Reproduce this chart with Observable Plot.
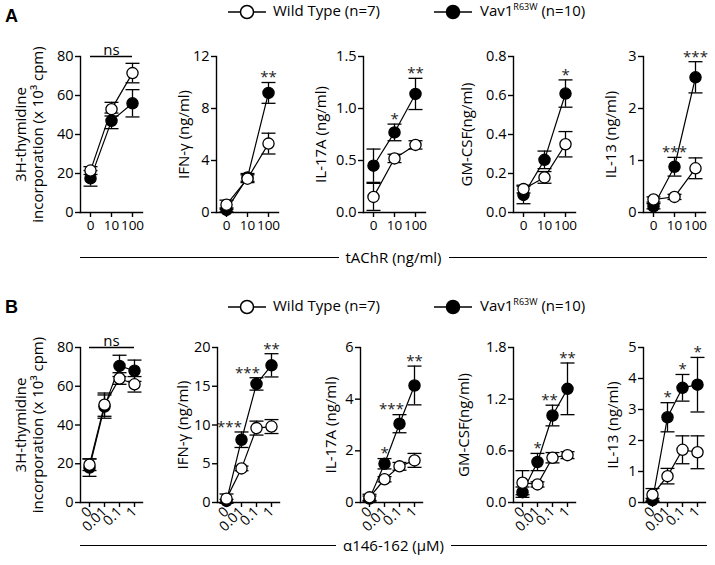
<!DOCTYPE html>
<html>
<head>
<meta charset="utf-8">
<script src="https://cdn.jsdelivr.net/npm/d3@7"></script>
<script src="https://cdn.jsdelivr.net/npm/@observablehq/plot@0.6"></script>
<style>
  body { margin: 0; background: #fff; font-family: "Open Sans", sans-serif; color: #000; }
  #chart { position: relative; width: 715px; height: 565px; overflow: hidden; }
  .abs { position: absolute; white-space: nowrap; }
  .lbl { font-size: 15px; line-height: 20px; }
  .sup { font-size: 9px; position: relative; top: -6px; }
  .xtitle { display: flex; align-items: center; font-size: 15px; }
  .xtitle .seg { flex: 1; border-top: 1.4px solid #000; height: 0; }
  .xtitle span { padding: 0 7px; }
</style>
</head>
<body>
<div id="chart"></div>
<script>
// ---------------- DATA ----------------
const dosesA = ["0", "10", "100"];                 // tAChR (ng/ml)
const dosesB = ["0", "0.01", "0.1", "1"];          // α146-162 (µM)

// Row A — tAChR stimulation
const aThymWT = [21.5, 53, 71.5],   aThymWTsem = [2, 3.5, 5];
const aThymMut = [17.5, 47, 56],    aThymMutSem = [4, 4, 7];
const aIfnWT = [0.6, 2.6, 5.3],     aIfnWTsem = [0.35, 0.3, 0.8];
const aIfnMut = [0.2, 2.7, 9.2],    aIfnMutSem = [0.15, 0.3, 0.8];
const aIl17WT = [0.15, 0.52, 0.65], aIl17WTsem = [0.13, 0.04, 0.04];
const aIl17Mut = [0.45, 0.77, 1.14],aIl17MutSem = [0.16, 0.08, 0.15];
const aGmWT = [0.12, 0.18, 0.35],   aGmWTsem = [0.02, 0.03, 0.065];
const aGmMut = [0.09, 0.27, 0.61],  aGmMutSem = [0.045, 0.045, 0.07];
const aIl13WT = [0.25, 0.3, 0.85],  aIl13WTsem = [0.05, 0.05, 0.2];
const aIl13Mut = [0.12, 0.88, 2.6], aIl13MutSem = [0.05, 0.18, 0.3];

// Row B — α146-162 stimulation
const bThymWT = [19.5, 50.5, 64, 61],   bThymWTsem = [3, 6, 3, 4];
const bThymMut = [18, 49.5, 70.5, 68],  bThymMutSem = [4.5, 6, 5.5, 5.5];
const bIfnWT = [0.5, 4.4, 9.6, 9.8],    bIfnWTsem = [0.6, 0.3, 0.9, 0.9];
const bIfnMut = [0.2, 8.1, 15.3, 17.7], bIfnMutSem = [0.2, 1.0, 0.8, 1.5];
const bIl17WT = [0.2, 0.9, 1.4, 1.63],  bIl17WTsem = [0.12, 0.1, 0.15, 0.27];
const bIl17Mut = [0.15, 1.5, 3.05, 4.53], bIl17MutSem = [0.1, 0.2, 0.35, 0.75];
const bGmWT = [0.23, 0.21, 0.52, 0.55], bGmWTsem = [0.14, 0.03, 0.06, 0.04];
const bGmMut = [0.12, 0.47, 1.01, 1.32], bGmMutSem = [0.06, 0.1, 0.12, 0.3];
const bIl13WT = [0.25, 0.85, 1.7, 1.62], bIl13WTsem = [0.2, 0.25, 0.45, 0.53];
const bIl13Mut = [0.08, 2.75, 3.7, 3.8], bIl13MutSem = [0.05, 0.47, 0.43, 0.88];

// significance labels per dose
const aIfnSig = ["", "", "**"];
const aIl17Sig = ["", "*", "**"];
const aGmSig = ["", "", "*"];
const aIl13Sig = ["", "***", "***"];
const bIfnSig = ["", "***", "***", "**"];
const bIl17Sig = ["", "*", "***", "**"];
const bGmSig = ["", "*", "**", "**"];
const bIl13Sig = ["", "*", "*", "*"];

const legendLabels = ["Wild Type (n=7)", "Vav1", "R63W", " (n=10)"];
const thymLabel = "3H-thymidine\nincorporation (x 10³ cpm)";

// ---------------- LAYOUT ----------------
const FONT = '"Open Sans", sans-serif';
const chart = document.getElementById("chart");

// horizontal error-bar cap as a custom dot symbol
const capSymbol = {draw(ctx) { ctx.moveTo(-7, 0); ctx.lineTo(7, 0); }};

function rows(doses, wt, wtE, mut, mutE) {
  const out = [];
  doses.forEach((d, i) => out.push({dose: d, s: "mut", v: mut[i], e: mutE[i]}));
  doses.forEach((d, i) => out.push({dose: d, s: "wt", v: wt[i], e: wtE[i]}));
  return out;
}

function drawPanel(p) {
  const ML = 95, MR = 12, MT = 30, MB = 50, W = 62;
  const data = rows(p.doses, p.wt, p.wtE, p.mut, p.mutE);
  const mutData = data.filter(d => d.s === "mut");
  const wtData = data.filter(d => d.s === "wt");
  const marks = [
    Plot.axisY({ticks: p.ticks, tickFormat: p.fmt || d3.format("d"), tickSize: 5, tickPadding: 2,
                strokeWidth: 1.4, label: null, fontSize: 14.5}),
    Plot.axisX({tickSize: 5, tickPadding: p.rotate ? 2 : 3, tickRotate: p.rotate, strokeWidth: 1.4,
                label: null, fontSize: p.rotate ? 14 : 13.5}),
    Plot.frame({anchor: "left", strokeWidth: 1.4}),
    Plot.frame({anchor: "bottom", strokeWidth: 1.4}),
    Plot.line(data, {x: "dose", y: "v", z: "s", stroke: "black", strokeWidth: 1.2}),
    Plot.ruleX(data, {x: "dose", y1: d => d.v - d.e, y2: d => d.v + d.e, stroke: "black", strokeWidth: 1.3}),
    Plot.dot(data, {x: "dose", y: d => d.v + d.e, symbol: capSymbol, fill: "none", stroke: "black", strokeWidth: 1.3}),
    Plot.dot(data, {x: "dose", y: d => d.v - d.e, symbol: capSymbol, fill: "none", stroke: "black", strokeWidth: 1.3}),
    Plot.dot(mutData, {x: "dose", y: "v", r: 5.6, fill: "black", stroke: "black", strokeWidth: 1.3}),
    Plot.dot(wtData, {x: "dose", y: "v", r: 5.6, fill: "white", stroke: "black", strokeWidth: 1.3}),
    Plot.text([p.label], {frameAnchor: "left", text: d => d, rotate: -90, dx: -p.labelDx,
                          textAnchor: "middle", lineAnchor: "middle", fontSize: 15, lineHeight: 1.13})
  ];
  if (p.ns) {
    const last = p.doses[p.doses.length - 1];
    marks.push(Plot.ruleY([{y: p.domain[1], a: p.doses[0], b: last}], {y: "y", x1: "a", x2: "b", stroke: "black", strokeWidth: 1.3}));
    marks.push(Plot.text(["ns"], {frameAnchor: "top", text: d => d, lineAnchor: "bottom", dy: -2, fontSize: 15}));
  }
  if (p.sig) {
    p.sig.forEach((t, i) => {
      if (!t) return;
      const top = Math.max(p.mut[i] + p.mutE[i], p.wt[i] + p.wtE[i]);
      marks.push(Plot.text([{dose: p.doses[i], y: top, t}], {
        x: "dose", y: "y", text: "t", dx: (p.sigDx ? p.sigDx[i] : 0), dy: -5,
        lineAnchor: "middle", fontSize: 15, fill: "#222"
      }));
    });
  }
  const svg = Plot.plot({
    width: ML + W + MR, height: MT + p.h + MB,
    marginLeft: ML, marginRight: MR, marginTop: MT, marginBottom: MB,
    x: {type: "point", domain: p.doses, padding: p.pad},
    y: {domain: p.domain},
    style: {background: "none", fontFamily: FONT, fontSize: "14.5px", overflow: "visible", color: "black"},
    marks
  });
  svg.style.position = "absolute";
  svg.style.left = (p.ax - ML) + "px";
  svg.style.top = (p.top - MT) + "px";
  chart.appendChild(svg);
}

const rowA = {top: 56, h: 156, doses: dosesA, pad: 0.42, rotate: 0};
const rowB = {top: 347, h: 155, doses: dosesB, pad: 0.46, rotate: -45};
const f1 = d3.format(".1f");

const panels = [
  {...rowA, ax: 80,  label: thymLabel, labelDx: 51, domain: [0, 80], ticks: [0, 20, 40, 60, 80],
   wt: aThymWT, wtE: aThymWTsem, mut: aThymMut, mutE: aThymMutSem, ns: true},
  {...rowA, ax: 216, label: "IFN-γ (ng/ml)", labelDx: 33, domain: [0, 12], ticks: [0, 4, 8, 12],
   wt: aIfnWT, wtE: aIfnWTsem, mut: aIfnMut, mutE: aIfnMutSem, sig: aIfnSig},
  {...rowA, ax: 363, label: "IL-17A (ng/ml)", labelDx: 43, domain: [0, 1.5], ticks: [0, 0.5, 1, 1.5], fmt: f1,
   wt: aIl17WT, wtE: aIl17WTsem, mut: aIl17Mut, mutE: aIl17MutSem, sig: aIl17Sig},
  {...rowA, ax: 513, label: "GM-CSF(ng/ml)", labelDx: 47, domain: [0, 0.8], ticks: [0, 0.2, 0.4, 0.6, 0.8], fmt: f1,
   wt: aGmWT, wtE: aGmWTsem, mut: aGmMut, mutE: aGmMutSem, sig: aGmSig},
  {...rowA, ax: 643, label: "IL-13 (ng/ml)", labelDx: 33, domain: [0, 3], ticks: [0, 1, 2, 3],
   wt: aIl13WT, wtE: aIl13WTsem, mut: aIl13Mut, mutE: aIl13MutSem, sig: aIl13Sig},

  {...rowB, ax: 80,  label: thymLabel, labelDx: 51, domain: [0, 80], ticks: [0, 20, 40, 60, 80],
   wt: bThymWT, wtE: bThymWTsem, mut: bThymMut, mutE: bThymMutSem, ns: true},
  {...rowB, ax: 217, label: "IFN-γ (ng/ml)", labelDx: 35, domain: [0, 20], ticks: [0, 5, 10, 15, 20],
   wt: bIfnWT, wtE: bIfnWTsem, mut: bIfnMut, mutE: bIfnMutSem, sig: bIfnSig, sigDx: [0, -12, -9, 0]},
  {...rowB, ax: 360, label: "IL-17A (ng/ml)", labelDx: 30, domain: [0, 6], ticks: [0, 2, 4, 6],
   wt: bIl17WT, wtE: bIl17WTsem, mut: bIl17Mut, mutE: bIl17MutSem, sig: bIl17Sig, sigDx: [0, 0, -8, 0]},
  {...rowB, ax: 513, label: "GM-CSF(ng/ml)", labelDx: 50, domain: [0, 1.8], ticks: [0, 0.6, 1.2, 1.8], fmt: f1,
   wt: bGmWT, wtE: bGmWTsem, mut: bGmMut, mutE: bGmMutSem, sig: bGmSig, sigDx: [0, 0, -3, 0]},
  {...rowB, ax: 643, label: "IL-13 (ng/ml)", labelDx: 31, domain: [0, 5], ticks: [0, 1, 2, 3, 4, 5],
   wt: bIl13WT, wtE: bIl13WTsem, mut: bIl13Mut, mutE: bIl13MutSem, sig: bIl13Sig}
];
panels.forEach(drawPanel);

// ---------------- LEGENDS / TITLES ----------------
function el(html, style, cls) {
  const d = document.createElement("div");
  d.className = "abs " + (cls || "");
  d.innerHTML = html;
  Object.assign(d.style, style);
  chart.appendChild(d);
  return d;
}
function symbol(filled) {
  return `<svg width="38" height="16"><line x1="0" y1="8" x2="38" y2="8" stroke="#000" stroke-width="1.5"/>` +
    `<circle cx="19" cy="8" r="6.5" fill="${filled ? "#000" : "#fff"}" stroke="#000" stroke-width="1.5"/></svg>`;
}
function legend(yc) {
  el(symbol(false), {left: "228px", top: (yc - 8) + "px", height: "16px"});
  el(legendLabels[0], {left: "273px", top: (yc - 11) + "px"}, "lbl");
  el(symbol(true), {left: "434px", top: (yc - 8) + "px", height: "16px"});
  el(`${legendLabels[1]}<span class="sup">${legendLabels[2]}</span>${legendLabels[3]}`, {left: "480px", top: (yc - 11) + "px"}, "lbl");
}
legend(11);
legend(306);
el("A", {left: "5px", top: "6px", fontSize: "18px", fontWeight: "bold", fontFamily: "Liberation Sans, Arial, sans-serif"});
el("B", {left: "5px", top: "297px", fontSize: "18px", fontWeight: "bold", fontFamily: "Liberation Sans, Arial, sans-serif"});

function xtitle(text, yc) {
  el(`<div class="seg"></div><span>${text}</span><div class="seg"></div>`,
     {left: "80px", width: "627px", top: (yc - 11) + "px", height: "22px"}, "xtitle");
}
xtitle("tAChR (ng/ml)", 257);
xtitle("α146-162 (μM)", 545);
</script>
</body>
</html>
